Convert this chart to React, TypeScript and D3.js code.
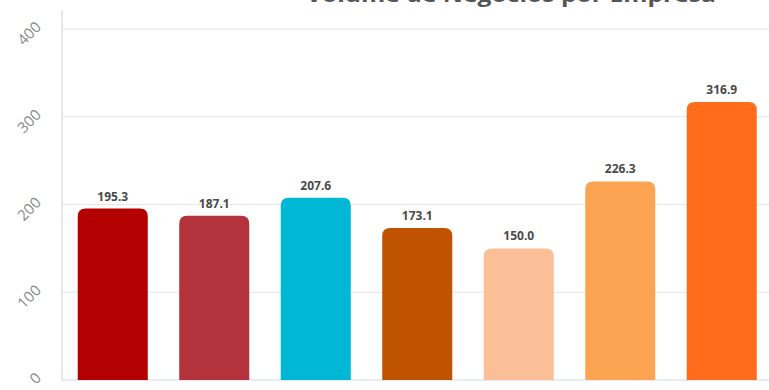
import React from "react";
import * as d3 from "d3";

const categories = ["Empresa A", "Empresa B", "Empresa C", "Empresa D", "Empresa E", "Empresa F", "Empresa G"];
const values = [195.3, 187.1, 207.6, 173.1, 150.0, 226.3, 316.9];
const colors = ["#b40000", "#b3323b", "#00b8d6", "#c05300", "#fbbf98", "#fda452", "#fe6c1c"];
const yTicks = [0, 100, 200, 300, 400];
const title = "Volume de Negócios por Empresa";

const W = 769;
const H = 390;

function topRoundedBar(x: number, y: number, w: number, h: number, r: number) {
  const rr = Math.min(r, w / 2, h);
  return `M${x},${y + h}V${y + rr}Q${x},${y} ${x + rr},${y}H${x + w - rr}Q${x + w},${y} ${x + w},${y + rr}V${y + h}Z`;
}

export default function App() {
  const x = d3.scaleBand<string>().domain(categories).range([62, 772.5]).paddingInner(0.31).paddingOuter(0.155);
  const y = d3.scaleLinear().domain([0, 400]).range([380, 29]);
  const font = "'Open Sans', 'DejaVu Sans', sans-serif";

  return (
    <svg width={W} height={H} style={{ position: "absolute", left: 0, top: 0, background: "#fff" }} fontFamily={font}>
      <text x={511} y={2} textAnchor="middle" fontSize={22} fontWeight={700} fill="#555" textLength={410} lengthAdjust="spacingAndGlyphs">
        {title}
      </text>
      {yTicks.map((t) => (
        <line key={"g" + t} x1={62} x2={W} y1={y(t)} y2={y(t)} stroke={t === 0 ? "#ccd6eb" : "#e6e6e6"} strokeWidth={1} />
      ))}
      <line x1={62} x2={62} y1={10} y2={380} stroke="#d0d0d0" strokeWidth={1} />
      {yTicks.map((t) => (
        <text
          key={"t" + t}
          transform={`translate(42,${y(t) - 1}) rotate(-45)`}
          textAnchor="end"
          fontSize={15}
          fill="#888"
        >
          {t}
        </text>
      ))}
      {categories.map((c, i) => {
        const bx = x(c)!;
        const by = y(values[i]);
        return (
          <path key={"b" + c} d={topRoundedBar(bx, by, x.bandwidth(), y(0) - by, 8)} fill={colors[i]} />
        );
      })}
      {categories.map((c, i) => (
        <text
          key={"l" + c}
          x={x(c)! + x.bandwidth() / 2}
          y={y(values[i]) - 8}
          textAnchor="middle"
          fontSize={12}
          fontWeight={700}
          fill="#4a4a4a"
          stroke="#fff"
          strokeWidth={2}
          paintOrder="stroke"
        >
          {values[i].toFixed(1)}
        </text>
      ))}
    </svg>
  );
}
